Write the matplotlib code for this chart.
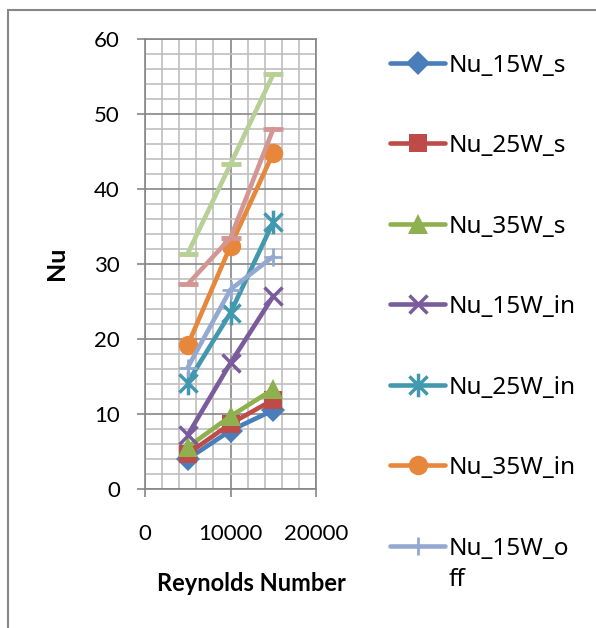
import matplotlib
matplotlib.use("Agg")
import matplotlib.pyplot as plt
from matplotlib.lines import Line2D
from matplotlib.patches import Rectangle
from matplotlib.path import Path
from matplotlib.ticker import MultipleLocator

# data
reynolds = [5000, 10000, 15000]
nu_15w_s = [4.0, 7.8, 10.5]
nu_25w_s = [4.7, 8.7, 11.9]
nu_35w_s = [5.6, 9.7, 13.3]
nu_15w_in = [7.2, 16.8, 25.7]
nu_25w_in = [14.2, 23.5, 35.6]
nu_35w_in = [19.2, 32.4, 44.8]
nu_15w_off = [16.2, 26.6, 31.0]
nu_25w_off = [27.3, 33.5, 48.0]
nu_35w_off = [31.4, 43.3, 55.3]

names = ["Nu_15W_s", "Nu_25W_s", "Nu_35W_s", "Nu_15W_in", "Nu_25W_in",
         "Nu_35W_in", "Nu_15W_off", "Nu_25W_off", "Nu_35W_off"]
series = [nu_15w_s, nu_25w_s, nu_35w_s, nu_15w_in, nu_25w_in,
          nu_35w_in, nu_15w_off, nu_25w_off, nu_35w_off]

# excel style star: an x with a vertical bar
star = Path([(-1, -1), (1, 1), (-1, 1), (1, -1), (0, -1.3), (0, 1.3)],
            [Path.MOVETO, Path.LINETO, Path.MOVETO, Path.LINETO, Path.MOVETO, Path.LINETO])

styles = [
    dict(color="#4A7EBB", marker="D", ms=12, mew=0),
    dict(color="#BE4B48", marker="s", ms=13, mew=0),
    dict(color="#8FB04F", marker="^", ms=15, mew=0),
    dict(color="#7A5C9C", marker="x", ms=13, mew=2.5),
    dict(color="#4198AF", marker=star, ms=17, mew=2.5),
    dict(color="#E6873C", marker="o", ms=14, mew=0),
    dict(color="#93A9D1", marker="+", ms=13, mew=2),
    dict(color="#D49694", marker="_", ms=15, mew=3.5),
    dict(color="#B8CF96", marker="_", ms=15, mew=3.5),
]

W, H = 596, 628
fig = plt.figure(figsize=(W / 100, H / 100), dpi=100)


def fx(x):
    return x / W


def fy(y):
    return 1 - y / H


# outer chart border (cropped on the right and bottom)
fig.add_artist(Rectangle((fx(8), fy(700)), fx(700), 690 / H, fill=False,
                         edgecolor="#878787", lw=1.5, transform=fig.transFigure))

ax = fig.add_axes([fx(145), fy(489), 171 / W, 450 / H])

for vals, st in zip(series, styles):
    ax.plot(reynolds, vals, lw=3.3, color=st["color"], marker=st["marker"],
            markersize=st["ms"], markeredgewidth=st["mew"],
            markerfacecolor=st["color"], markeredgecolor=st["color"],
            solid_capstyle="round", solid_joinstyle="round")

ax.set_xlim(0, 20000)
ax.set_ylim(0, 60)
ax.xaxis.set_major_locator(MultipleLocator(10000))
ax.xaxis.set_minor_locator(MultipleLocator(2000))
ax.yaxis.set_major_locator(MultipleLocator(10))
ax.yaxis.set_minor_locator(MultipleLocator(2))
ax.grid(which="minor", color="#BFBFBF", lw=1.2)
ax.grid(which="major", color="#868686", lw=1.2)
ax.set_axisbelow(True)
for s in ax.spines.values():
    s.set_color("#868686")
    s.set_linewidth(1.2)

ax.tick_params(which="major", length=6, width=1.2, color="#868686",
               labelsize=16, direction="out")
ax.tick_params(which="minor", length=0)
ax.tick_params(axis="x", pad=19)
ax.tick_params(axis="y", pad=12)
for lab in ax.get_xticklabels() + ax.get_yticklabels():
    lab.set_fontfamily("Lato")

ax.set_ylabel("Nu", fontsize=18, fontweight="bold", family="Lato")
ax.yaxis.set_label_coords(-0.515, 0.502)
ax.yaxis.label.set_verticalalignment("center")
ax.set_xlabel("Reynolds Number", fontsize=17, fontweight="bold", family="Lato")
ax.xaxis.set_label_coords(0.623, -0.209)
ax.xaxis.label.set_verticalalignment("center")

# legend, drawn by hand so the wrapped last entry matches
legend_top = 62.7
step = 80.5
for i in range(7):
    st = styles[i]
    y = legend_top + i * step
    fig.add_artist(Line2D([fx(390), fx(417.5), fx(445)], [fy(y)] * 3,
                          transform=fig.transFigure, lw=3.3, color=st["color"],
                          marker=st["marker"], markevery=[1],
                          markersize=st["ms"], markeredgewidth=st["mew"],
                          solid_capstyle="round"))
    label = names[i]
    lines = [label[:8], label[8:]] if len(label) > 9 else [label]
    for j, part in enumerate(lines):
        fig.text(fx(449), fy(y + 9 + j * 31.7), part, fontsize=17.5,
                 family="Noto Sans", va="baseline", ha="left")

fig.savefig("out.png", dpi=100)
